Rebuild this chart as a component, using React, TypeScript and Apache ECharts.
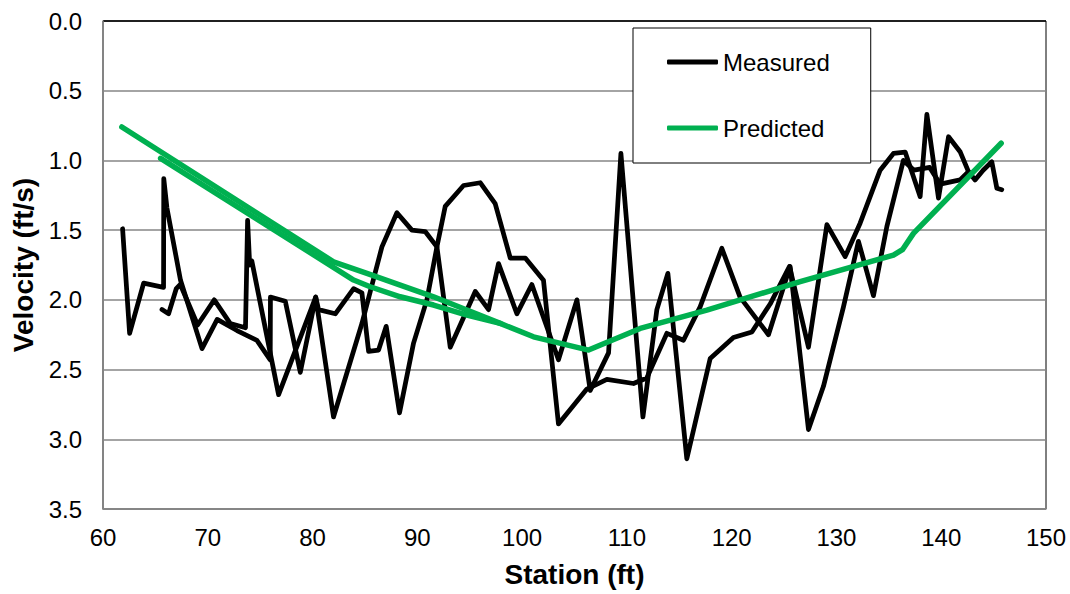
import React, { useEffect, useRef } from "react";
import * as echarts from "echarts";

// Station (ft) / Velocity (ft/s) pairs
const measuredPass1: [number, number][] = [
  [61.87, 1.49], [62.54, 2.24], [63.88, 1.88], [65.78, 1.91], [65.8, 1.13], [66.1, 1.34],
  [67.4, 1.86], [69.45, 2.35], [70.9, 2.14], [72.79, 2.22], [74.69, 2.29], [75.96, 2.43],
  [75.98, 1.98], [77.4, 2.01], [78.83, 2.52], [80.3, 1.98], [82.0, 2.84], [84.71, 2.17],
  [86.62, 1.62], [88.05, 1.375], [89.48, 1.5], [90.75, 1.51], [91.87, 1.62], [93.14, 2.34],
  [95.53, 1.94], [96.8, 2.07], [97.75, 1.74], [99.5, 2.1], [100.93, 1.89], [103.47, 2.43],
  [105.23, 2.0], [106.5, 2.65], [108.25, 2.38], [109.43, 0.95], [111.53, 2.84], [112.86, 2.07],
  [113.91, 1.81], [115.72, 3.14], [117.95, 2.42], [120.17, 2.27], [121.93, 2.23], [123.67, 2.03],
  [125.52, 1.76], [127.33, 2.34], [129.09, 1.46], [130.83, 1.69], [132.26, 1.45], [134.17, 1.07],
  [135.44, 0.95], [136.56, 0.94], [137.99, 1.26], [138.63, 0.67], [139.74, 1.27], [140.7, 0.83],
  [141.82, 0.94], [142.6, 1.08], [143.23, 1.14], [144.0, 1.07], [144.83, 1.01], [145.31, 1.2],
  [145.78, 1.21],
];

const measuredPass2: [number, number][] = [
  [65.63, 2.07], [66.26, 2.1], [66.99, 1.92], [67.38, 1.89], [69.03, 2.18], [70.62, 2.0],
  [72.15, 2.17], [73.6, 2.2], [73.8, 1.43], [74.0, 1.75], [74.2, 1.72], [76.76, 2.68],
  [80.3, 1.98], [80.57, 2.07], [82.17, 2.1], [83.92, 1.92], [84.71, 1.95], [85.35, 2.37],
  [86.3, 2.36], [87.03, 2.19], [88.3, 2.81], [89.64, 2.31], [90.91, 2.0], [91.87, 1.62],
  [92.66, 1.33], [94.41, 1.18], [96.0, 1.16], [97.43, 1.31], [98.87, 1.7], [100.3, 1.7],
  [102.04, 1.86], [103.47, 2.89], [106.18, 2.64], [108.09, 2.57], [110.63, 2.6], [111.9, 2.56],
  [113.82, 2.24], [115.4, 2.29], [116.99, 2.05], [119.06, 1.63], [120.8, 1.98], [123.51, 2.25],
  [125.58, 1.76], [127.33, 2.93], [128.76, 2.62], [130.67, 2.05], [132.1, 1.58], [133.53, 1.97],
  [134.81, 1.475], [136.39, 1.0], [137.4, 1.07], [138.9, 1.05], [139.9, 1.17], [141.8, 1.14],
  [142.6, 1.08],
];

const predictedPass1: [number, number][] = [
  [61.8, 0.76], [82.0, 1.727], [85.19, 1.81], [88.37, 1.894], [91.55, 1.978], [94.73, 2.073],
  [97.91, 2.169], [101.09, 2.265], [106.34, 2.36], [111.27, 2.205], [117.63, 2.073],
  [126.54, 1.87], [135.44, 1.679], [136.3, 1.64], [137.35, 1.523], [145.72, 0.877],
];

const predictedPass2: [number, number][] = [
  [65.5, 0.985], [83.92, 1.858], [85.5, 1.906], [88.37, 1.978], [91.55, 2.037], [94.73, 2.109],
  [97.91, 2.169],
];

const legendNames = ["Measured", "Predicted"];
const FONT = "'Liberation Sans', Arial, Helvetica, sans-serif";
const BLACK = "#000000";
const GREEN = "#00B050";
const GRID_GRAY = "#868686";

export default function App() {
  const ref = useRef<HTMLDivElement>(null);

  useEffect(() => {
    document.body.style.margin = "0";
    if (!ref.current) return;
    const chart = echarts.init(ref.current, null, { renderer: "svg" });

    const lineSeries = (name: string, data: [number, number][], color: string, width: number, z: number) => ({
      name,
      type: "line",
      data,
      showSymbol: false,
      symbol: "none",
      z,
      silent: true,
      itemStyle: { color },
      lineStyle: { color, width, cap: "round", join: "round" },
      emphasis: { disabled: true },
    });

    chart.setOption({
      animation: false,
      backgroundColor: "#ffffff",
      textStyle: { fontFamily: FONT, color: BLACK },
      grid: {
        left: 103,
        right: 24,
        top: 21,
        bottom: 85,
        show: true,
        borderColor: BLACK,
        borderWidth: 1,
        backgroundColor: "transparent",
      },
      legend: {
        orient: "vertical",
        left: 633,
        top: 28,
        padding: [22, 41, 23, 34],
        itemGap: 42,
        itemWidth: 51,
        itemHeight: 5,
        icon: "roundRect",
        backgroundColor: "#ffffff",
        borderColor: BLACK,
        borderWidth: 1,
        borderRadius: 0,
        selectedMode: false,
        textStyle: { fontSize: 24, lineHeight: 24, color: BLACK, fontFamily: FONT },
        data: legendNames,
      },
      xAxis: {
        type: "value",
        min: 60,
        max: 150,
        interval: 10,
        name: "Station (ft)",
        nameLocation: "middle",
        nameGap: 51,
        nameTextStyle: { fontSize: 28, fontWeight: "bold", color: BLACK, fontFamily: FONT },
        axisLine: { onZero: false, lineStyle: { color: GRID_GRAY, width: 1.5 } },
        axisTick: { show: false },
        axisLabel: { fontSize: 24, color: BLACK, margin: 16, fontFamily: FONT },
        splitLine: { show: false },
      },
      yAxis: {
        type: "value",
        inverse: true,
        min: 0,
        max: 3.5,
        interval: 0.5,
        name: "Velocity (ft/s)",
        nameLocation: "middle",
        nameRotate: 90,
        nameGap: 66,
        nameTextStyle: { fontSize: 28, fontWeight: "bold", color: BLACK, fontFamily: FONT },
        axisLine: { show: true, onZero: false, lineStyle: { color: GRID_GRAY, width: 1.5 } },
        axisTick: { show: false },
        axisLabel: {
          fontSize: 24,
          color: BLACK,
          margin: 21,
          fontFamily: FONT,
          formatter: (v: number) => v.toFixed(1),
        },
        splitLine: {
          show: true,
          lineStyle: {
            color: [BLACK, GRID_GRAY, GRID_GRAY, GRID_GRAY, GRID_GRAY, GRID_GRAY, GRID_GRAY, GRID_GRAY],
            width: 1.5,
          },
        },
      },
      series: [
        lineSeries("Measured", measuredPass1, BLACK, 4.75, 2),
        lineSeries("Measured", measuredPass2, BLACK, 4.75, 2),
        lineSeries("Predicted", predictedPass1, GREEN, 5.5, 3),
        lineSeries("Predicted", predictedPass2, GREEN, 5.5, 3),
      ],
    });

    return () => {
      chart.dispose();
    };
  }, []);

  return <div ref={ref} style={{ width: 1070, height: 594 }} />;
}
